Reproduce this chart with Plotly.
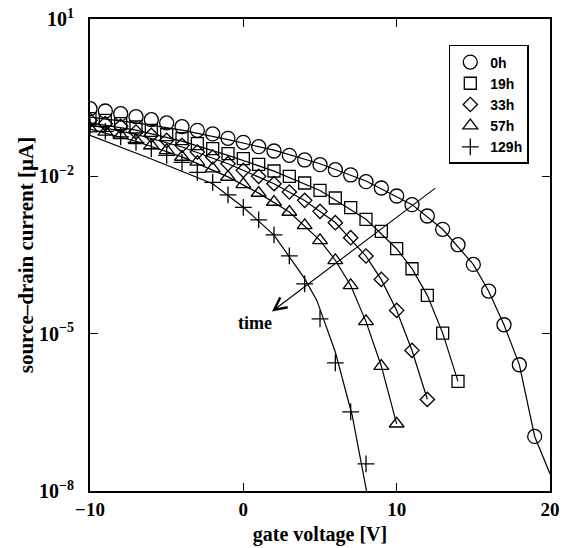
import plotly.graph_objects as go

# ---- measured data (gate voltage [V], log10 of source-drain current [uA]) ----
gate_v_0h = [-10, -9, -8, -7, -6, -5, -4, -3, -2, -1, 0, 1, 2, 3, 4, 5, 6, 7, 8, 9,
             10, 11, 12, 13, 14, 15, 16, 17, 18, 19]
log_i_0h = [-0.709, -0.754, -0.805, -0.862, -0.920, -0.982, -1.053, -1.123, -1.192, -1.275,
            -1.352, -1.435, -1.517, -1.600, -1.688, -1.778, -1.873, -1.974, -2.102, -2.222,
            -2.375, -2.541, -2.756, -3.011, -3.304, -3.679, -4.187, -4.830, -5.593, -6.960]

gate_v_19h = [-10, -9, -8, -7, -6, -5, -4, -3, -2, -1, 0, 1, 2, 3, 4, 5, 6, 7, 8, 9,
              10, 11, 12, 13, 14]
log_i_19h = [-0.900, -0.932, -0.996, -1.059, -1.123, -1.206, -1.282, -1.377, -1.473, -1.568,
             -1.664, -1.771, -1.898, -2.000, -2.127, -2.267, -2.413, -2.598, -2.820, -3.049,
             -3.380, -3.762, -4.270, -4.988, -5.910]

gate_v_33h = [-10, -9, -8, -7, -6, -5, -4, -3, -2, -1, 0, 1, 2, 3, 4, 5, 6, 7, 8, 9,
              10, 11, 12]
log_i_33h = [-0.932, -0.996, -1.047, -1.154, -1.218, -1.314, -1.409, -1.536, -1.631, -1.759,
             -1.886, -2.000, -2.140, -2.299, -2.458, -2.668, -2.884, -3.170, -3.519, -3.965,
             -4.556, -5.319, -6.254]

gate_v_57h = [-10, -9, -8, -7, -6, -5, -4, -3, -2, -1, 0, 1, 2, 3, 4, 5, 6, 7, 8, 9, 10]
log_i_57h = [-1.091, -1.154, -1.218, -1.314, -1.409, -1.504, -1.631, -1.726, -1.854, -2.013,
             -2.153, -2.318, -2.489, -2.680, -2.935, -3.221, -3.602, -4.079, -4.766, -5.618,
             -6.718]

gate_v_129h = [-10, -9, -8, -7, -6, -5, -4, -3, -2, -1, 0, 1, 2, 3, 4, 5, 6, 7, 8]
log_i_129h = [-1.047, -1.142, -1.247, -1.352, -1.476, -1.600, -1.733, -1.924, -2.115, -2.353,
              -2.591, -2.830, -3.116, -3.517, -4.051, -4.718, -5.558, -6.492, -7.484]

# ---- fitted curves ----
fit_v_0h = [-10, -7, -4, -1, 2, 5, 8, 11, 13, 15, 16, 17, 18, 19, 20]
fit_log_0h = [-0.87, -0.98, -1.12, -1.30, -1.50, -1.76, -2.09, -2.54, -3.01, -3.68, -4.19,
              -4.83, -5.59, -6.96, -7.67]
fit_v_19h = [-10, -7, -4, -1, 2, 5, 8, 10, 11, 12, 13, 14]
fit_log_19h = [-0.98, -1.12, -1.33, -1.60, -1.90, -2.27, -2.82, -3.38, -3.76, -4.27, -4.99, -5.91]
fit_v_33h = [-10, -7, -4, -1, 2, 4, 6, 8, 9, 10, 11, 12]
fit_log_33h = [-1.02, -1.20, -1.44, -1.76, -2.14, -2.46, -2.88, -3.52, -3.97, -4.56, -5.32, -6.25]
fit_v_57h = [-10, -7, -4, -1, 1, 3, 5, 6, 7, 8, 9, 10]
fit_log_57h = [-1.10, -1.33, -1.63, -2.01, -2.32, -2.68, -3.22, -3.60, -4.08, -4.77, -5.62, -6.72]
fit_v_129h = [-10, -6, -2, 0, 2, 4, 4.8, 6, 7.1, 8.1]
fit_log_129h = [-1.22, -1.67, -2.14, -2.59, -3.12, -3.95, -4.37, -5.35, -6.56, -8.10]

series_names = ["0h", "19h", "33h", "57h", "129h"]
x_tick_vals = [-10, 0, 10, 20]
x_tick_text = ["−10", "0", "10", "20"]
y_tick_exps = [1, -2, -5, -8]

# time arrow (gate voltage, log10 current): tail -> head, and label
arrow_tail = (12.62, -2.204)
arrow_head = (1.87, -4.575)
time_label_pos = (0.76, -4.80)

series = [
    (gate_v_0h, log_i_0h, fit_v_0h, fit_log_0h, "circle-open", 14),
    (gate_v_19h, log_i_19h, fit_v_19h, fit_log_19h, "square-open", 12),
    (gate_v_33h, log_i_33h, fit_v_33h, fit_log_33h, "diamond-open", 11),
    (gate_v_57h, log_i_57h, fit_v_57h, fit_log_57h, "triangle-up-open", 13),
    (gate_v_129h, log_i_129h, fit_v_129h, fit_log_129h, "cross-thin", 12),
]

fig = go.Figure()
for (gx, gl, fx, fl, sym, sz) in series:
    fig.add_trace(go.Scatter(x=fx, y=[10 ** v for v in fl], mode="lines",
                             line=dict(color="black", width=1.2),
                             showlegend=False, hoverinfo="skip"))
for name, (gx, gl, fx, fl, sym, sz) in zip(series_names, series):
    fig.add_trace(go.Scatter(x=gx, y=[10 ** v for v in gl], mode="markers", name=name,
                             marker=dict(symbol=sym, size=sz, color="black",
                                         line=dict(color="black", width=1.3))))

serif = "Liberation Serif"
fig.update_layout(
    width=568, height=548,
    margin=dict(l=90, r=18, t=19, b=57),
    paper_bgcolor="white", plot_bgcolor="white",
    showlegend=True,
    legend=dict(x=0.78, y=0.945, xanchor="left", yanchor="top",
                bordercolor="black", borderwidth=1.5, bgcolor="white",
                font=dict(family="Liberation Sans", size=14, color="black", weight="bold"),
                itemwidth=30, tracegroupgap=0),
    font=dict(family=serif, color="black"),
)
fig.update_xaxes(range=[-10, 20], tickvals=x_tick_vals, automargin=False,
                 ticktext=["<b>%s</b>" % t for t in x_tick_text],
                 tickfont=dict(family=serif, size=19, color="black"),
                 ticks="inside", ticklen=8, tickwidth=1.4, tickcolor="black",
                 showline=True, linecolor="black", linewidth=2, mirror="ticks",
                 showgrid=False, zeroline=False,
                 title=dict(text="<b>gate voltage [V]</b>", font=dict(family=serif, size=20),
                            standoff=8))
fig.update_yaxes(type="log", range=[-8, 1], tickvals=[10.0 ** e for e in y_tick_exps],
                 automargin=False,
                 ticktext=["<b>10<sup>%s</sup></b>" % (str(e).replace("-", "−")) for e in y_tick_exps],
                 tickfont=dict(family=serif, size=20, color="black"),
                 ticks="inside", ticklen=8, tickwidth=1.4, tickcolor="black",
                 ticklabelstandoff=10,
                 showline=True, linecolor="black", linewidth=2, mirror="ticks",
                 showgrid=False, zeroline=False,
                 title=dict(text="<b>source–drain current [µA]</b>",
                            font=dict(family=serif, size=21), standoff=0))

fig.add_annotation(x=arrow_head[0], y=arrow_head[1], ax=arrow_tail[0], ay=arrow_tail[1],
                   xref="x", yref="y", axref="x", ayref="y", text="", showarrow=True,
                   arrowhead=5, arrowsize=2.2, arrowwidth=1.1, arrowcolor="black")
fig.add_annotation(x=time_label_pos[0], y=time_label_pos[1], xref="x", yref="y",
                   text="<b>time</b>", showarrow=False,
                   font=dict(family=serif, size=18, color="black"))

fig.write_html("out.html")
